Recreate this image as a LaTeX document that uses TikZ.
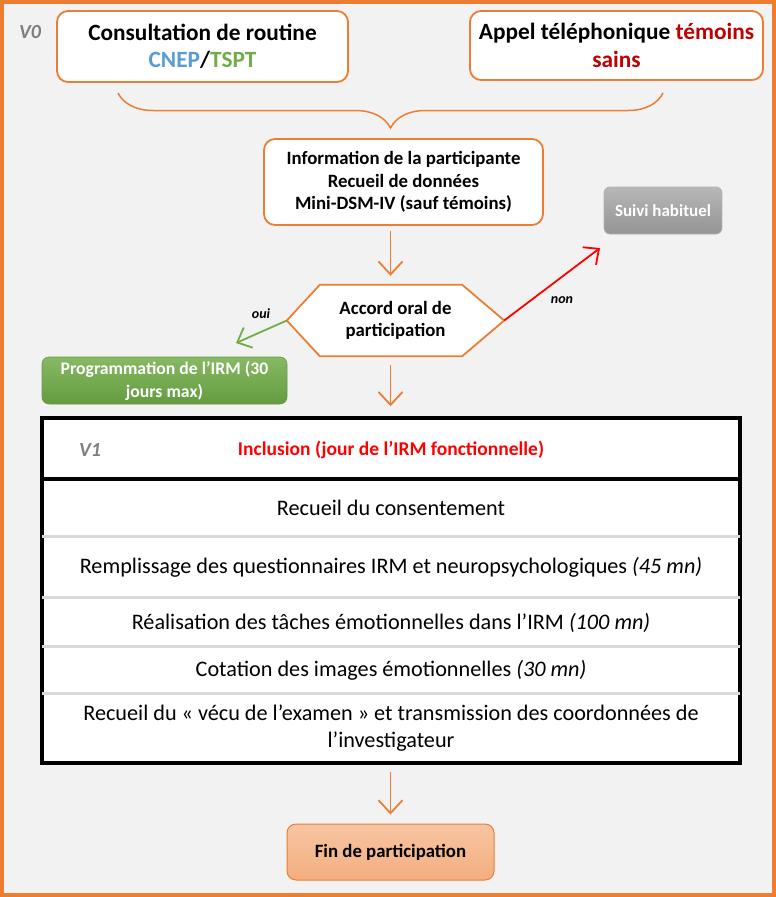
\documentclass[tikz,border=0pt]{standalone}
\usepackage{fontspec}
\setmainfont{Carlito}
\usetikzlibrary{arrows.meta,backgrounds,decorations.pathreplacing}
\definecolor{orng}{HTML}{ED7D31}
\definecolor{bgc}{HTML}{F2F2F2}
\definecolor{cnep}{HTML}{5B9BD5}
\definecolor{tspt}{HTML}{70AD47}
\definecolor{tem}{HTML}{C00000}
\definecolor{incl}{HTML}{FF0000}
\definecolor{vgray}{HTML}{7F7F7F}
\definecolor{sep}{HTML}{D9D9D9}
\definecolor{grn}{HTML}{70AD47}
\begin{document}
\begin{tikzpicture}[x=1pt,y=-1pt,
  obox/.style={draw=orng, line width=1.8pt, fill=white, rounded corners=11pt, align=center, inner sep=0pt},
  oarr/.style={draw=orng, line width=1.8pt, -{Straight Barb[length=13pt,width=24pt,line width=1.8pt]}},
  vlab/.style={font=\bfseries\itshape\fontsize{20}{22}\selectfont, text=vgray},
  rowtxt/.style={font=\fontsize{22.2}{27}\selectfont, align=center},
  small/.style={font=\bfseries\itshape\fontsize{14}{16}\selectfont}]
\useasboundingbox (0,0) rectangle (776,897);
\begin{scope}[on background layer]
\fill[bgc] (0,0) rectangle (776,897);
\end{scope}
% top boxes
\node[vlab] (v0) at (30,32) {V0};
\node[obox, minimum width=291pt, minimum height=71pt, font=\bfseries\fontsize{23.3}{27.5}\selectfont] (cons) at (202.5,46.5) {Consultation de routine\\\textcolor{cnep}{CNEP}/\textcolor{tspt}{TSPT}};
\node[obox, minimum width=293pt, minimum height=69pt, font=\bfseries\fontsize{23.3}{27.5}\selectfont] (appel) at (616.5,45.5) {Appel téléphonique \textcolor{tem}{témoins}\\\textcolor{tem}{sains}};
% brace
\coordinate (bl) at (118,93);
\coordinate (br) at (663,93);
\draw[orng, line width=1.5pt, decorate, decoration={brace, amplitude=35pt, mirror}] (bl) -- (br);
% info box
\node[obox, minimum width=279pt, minimum height=86pt, font=\bfseries\fontsize{18.8}{22.5}\selectfont] (info) at (403.5,182) {Information de la participante\\Recueil de données\\Mini-DSM-IV (sauf témoins)};
% hexagon decision
\node[minimum width=217pt, minimum height=71pt, inner sep=0pt, align=center, font=\bfseries\fontsize{18.8}{22}\selectfont] (acc) at (395.5,320.5) {Accord oral de\\participation};
\begin{scope}[on background layer]
\draw[orng, line width=1.8pt, fill=white, line join=miter] (acc.west) -- ([xshift=33pt]acc.north west) -- ([xshift=-42pt]acc.north east) -- (acc.east) -- ([xshift=-42pt]acc.south east) -- ([xshift=33pt]acc.south west) -- cycle;
\end{scope}
% suivi
\node[draw=black!30, line width=0.8pt, rounded corners=6pt, top color=black!28, bottom color=black!42, minimum width=118pt, minimum height=47pt, text=white, font=\bfseries\fontsize{17}{19}\selectfont] (suivi) at (663,210.5) {Suivi habituel};
% programmation
\node[draw=grn!80!black!90, line width=0.6pt, rounded corners=7pt, top color=grn!85!white, bottom color=grn!90!black, minimum width=245pt, minimum height=47pt, inner sep=0pt, align=center, text=white, font=\bfseries\fontsize{17.7}{23}\selectfont] (prog) at (164.5,380.5) {Programmation de l’IRM (30\\jours max)};
% arrows of decision
\coordinate (nontip) at (600,248);
\coordinate (ouitip) at (236,343);
\draw[incl, line width=1.8pt, -{Straight Barb[length=12pt,width=22pt,line width=1.8pt]}] (acc.east) -- (nontip);
\draw[grn, line width=1.8pt, -{Straight Barb[length=12pt,width=22pt,line width=1.8pt]}] (acc.west) -- (ouitip);
\node[small] (oui) at (261,314) {oui};
\node[small] (non) at (562,300) {non};
% table
\node[draw=black, line width=3.5pt, fill=white, minimum width=698pt, minimum height=345pt, inner sep=0pt] (tbl) at (391,590.5) {};
\draw[black, line width=3.5pt] (tbl.west |- 0,479) -- (tbl.east |- 0,479);
\draw[sep, line width=3pt] ([xshift=2pt]tbl.west |- 0,536) -- ([xshift=-2pt]tbl.east |- 0,536);
\draw[sep, line width=3pt] ([xshift=2pt]tbl.west |- 0,597) -- ([xshift=-2pt]tbl.east |- 0,597);
\draw[sep, line width=3pt] ([xshift=2pt]tbl.west |- 0,646) -- ([xshift=-2pt]tbl.east |- 0,646);
\draw[sep, line width=3pt] ([xshift=2pt]tbl.west |- 0,693) -- ([xshift=-2pt]tbl.east |- 0,693);
\node[vlab] (v1) at (90,450) {V1};
\node[font=\bfseries\fontsize{19.5}{23}\selectfont, text=incl] (r1) at (391,450) {Inclusion (jour de l’IRM fonctionnelle)};
\node[rowtxt] (r2) at (391,508) {Recueil du consentement};
\node[rowtxt] (r3) at (391,567) {Remplissage des questionnaires IRM et neuropsychologiques \textit{(45 mn)}};
\node[rowtxt] (r4) at (391,623) {Réalisation des tâches émotionnelles dans l’IRM \textit{(100 mn)}};
\node[rowtxt] (r5) at (391,670) {Cotation des images émotionnelles \textit{(30 mn)}};
\node[rowtxt] (r6) at (391,728.5) {Recueil du «~vécu de l’examen~» et transmission des coordonnées de\\l’investigateur};
% fin
\node[draw=orng, line width=1pt, rounded corners=9pt, top color=orng!45!white, bottom color=orng!62!white, minimum width=207pt, minimum height=56pt, font=\bfseries\fontsize{18.8}{22}\selectfont] (fin) at (390.5,852) {Fin de participation};
% vertical arrows
\draw[oarr, shorten <=5pt, shorten >=9pt] (info.south -| fin) -- (acc.north -| fin);
\draw[oarr, shorten <=9pt, shorten >=10pt] (acc.south -| fin) -- (tbl.north -| fin);
\draw[oarr, shorten <=7pt, shorten >=9pt] (tbl.south -| fin) -- (fin.north);
% frame
\draw[orng, line width=4pt] (2,2) rectangle (774,895);
\end{tikzpicture}
\end{document}
